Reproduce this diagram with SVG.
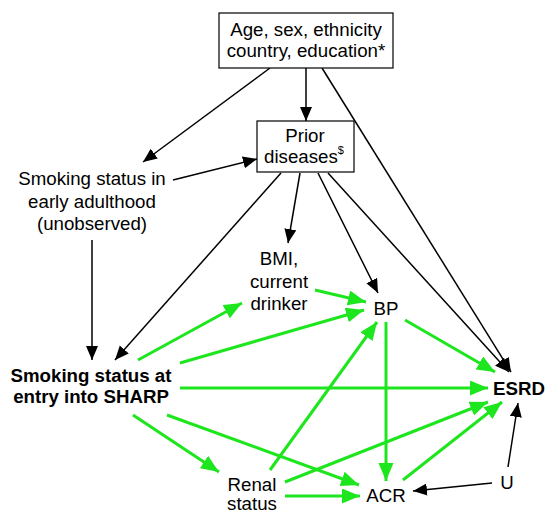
<svg xmlns="http://www.w3.org/2000/svg" width="546" height="515" viewBox="0 0 546 515">
<defs>
<marker id="ab" markerUnits="userSpaceOnUse" markerWidth="16" markerHeight="14" refX="14" refY="6" orient="auto"><path d="M0,0 L14,6 L0,12 z" fill="#000"/></marker>
<marker id="ag" markerUnits="userSpaceOnUse" markerWidth="20" markerHeight="16" refX="18" refY="7.5" orient="auto"><path d="M0,0 L18,7.5 L0,15 z" fill="#1ee61e"/></marker>
</defs>
<style>
text{font-family:"Liberation Sans",Arial,sans-serif;font-size:18.7px;fill:#000;text-anchor:middle}
.b{font-weight:bold}
.box{fill:#fff;stroke:#000;stroke-width:1.2}
.k{stroke:#000;stroke-width:1.5;fill:none;marker-end:url(#ab)}
.g{stroke:#1ee61e;stroke-width:3;fill:none;marker-end:url(#ag)}
</style>
<g id="connectors">
<line class="k" x1="306" y1="68" x2="306" y2="121"/>
<line class="k" x1="270" y1="68" x2="143" y2="162"/>
<line class="k" x1="322" y1="68" x2="511" y2="372"/>
<line class="k" x1="173" y1="180" x2="257" y2="159"/>
<line class="k" x1="328" y1="173" x2="509" y2="372"/>
<line class="k" x1="318" y1="173" x2="378" y2="293"/>
<line class="k" x1="300" y1="173" x2="288" y2="243"/>
<line class="k" x1="281" y1="173" x2="115" y2="360"/>
<line class="k" x1="92" y1="240" x2="92" y2="360"/>
<line class="k" x1="492" y1="483" x2="413" y2="491"/>
<line class="k" x1="508" y1="467" x2="518" y2="403"/>
<line class="g" x1="138" y1="360" x2="242" y2="303"/>
<line class="g" x1="180" y1="363" x2="364" y2="310"/>
<line class="g" x1="315" y1="290" x2="366" y2="302"/>
<line class="g" x1="180" y1="388" x2="488" y2="388"/>
<line class="g" x1="405" y1="320" x2="495" y2="372"/>
<line class="g" x1="386" y1="322" x2="386" y2="481"/>
<line class="g" x1="270" y1="470" x2="377" y2="322"/>
<line class="g" x1="133" y1="415" x2="219" y2="472"/>
<line class="g" x1="167" y1="415" x2="359" y2="485"/>
<line class="g" x1="285" y1="496" x2="360" y2="496"/>
<line class="g" x1="285" y1="482" x2="488" y2="402"/>
<line class="g" x1="403" y1="480" x2="502" y2="402"/>
</g>
<g id="demographics">
<rect class="box" x="219" y="13" width="174" height="55"/>
<text x="306" y="36">Age, sex, ethnicity</text>
<text x="306" y="57">country, education*</text>
</g>
<g id="prior">
<rect class="box" x="257" y="121" width="97" height="51"/>
<text x="305" y="142">Prior</text>
<text x="304" y="163">diseases<tspan font-size="11" dy="-9">$</tspan></text>
</g>
<g id="smoking-early">
<text x="92" y="185">Smoking status in</text>
<text x="92" y="208">early adulthood</text>
<text x="92" y="230">(unobserved)</text>
</g>
<g id="bmi">
<text x="279" y="265">BMI,</text>
<text x="279" y="288">current</text>
<text x="279" y="310">drinker</text>
</g>
<g id="bp"><text x="386" y="315">BP</text></g>
<g id="smoking-entry">
<text class="b" x="91" y="382">Smoking status at</text>
<text class="b" x="91" y="403">entry into SHARP</text>
</g>
<g id="esrd"><text class="b" x="519" y="395">ESRD</text></g>
<g id="renal">
<text x="252" y="491">Renal</text>
<text x="252" y="510">status</text>
</g>
<g id="acr"><text x="386" y="502">ACR</text></g>
<g id="u"><text x="507" y="489">U</text></g>
</svg>
